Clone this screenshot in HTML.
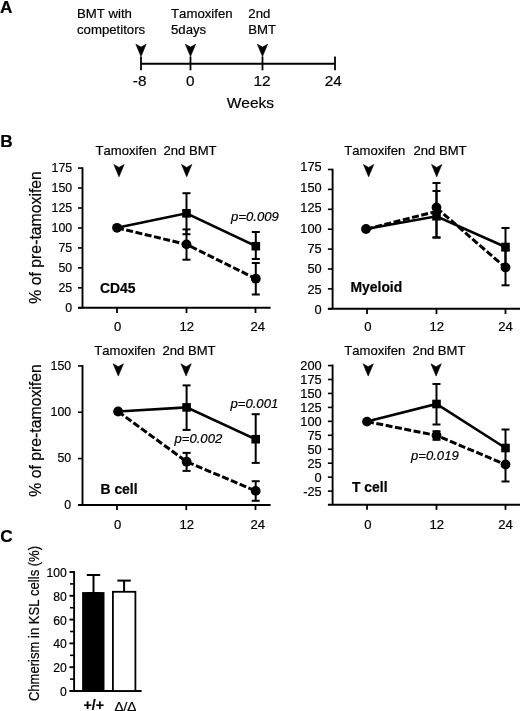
<!DOCTYPE html>
<html><head><meta charset="utf-8"><title>Figure</title>
<style>
html,body{margin:0;padding:0;background:#fff;}
body{width:520px;height:711px;overflow:hidden;}
svg{display:block;}
text{stroke:#000;stroke-width:0.2px;font-family:"Liberation Sans",Arial,Helvetica,sans-serif;fill:#000;font-kerning:none;}
</style></head><body>
<svg width="520" height="711" viewBox="0 0 520 711">
<rect width="520" height="711" fill="#fff"/>
<text x="0" y="12.8" font-size="17.2" font-weight="bold">A</text>
<text x="77" y="18.2" font-size="13.2">BMT with</text>
<text x="77" y="33.8" font-size="13.2">competitors</text>
<text x="171" y="18.2" font-size="13.2">Tamoxifen</text>
<text x="171" y="33.8" font-size="13.2">5days</text>
<text x="248.3" y="18.2" font-size="13.2">2nd</text>
<text x="248.3" y="33.8" font-size="13.2">BMT</text>
<path d="M141,63.8 H335" stroke="#000" stroke-width="2" fill="none"/>
<path d="M141,56.5 V70.3" stroke="#000" stroke-width="1.8" fill="none"/>
<path d="M190.5,56.5 V70.3" stroke="#000" stroke-width="1.8" fill="none"/>
<path d="M262.5,56.5 V70.3" stroke="#000" stroke-width="1.8" fill="none"/>
<path d="M335,56.5 V70.3" stroke="#000" stroke-width="1.8" fill="none"/>
<path d="M135.85,44.20 L141.00,47.10 L146.15,44.20 L141.00,56.50 Z" fill="#000" stroke="#000" stroke-width="0.6" stroke-linejoin="round"/>
<path d="M185.35,44.20 L190.50,47.10 L195.65,44.20 L190.50,56.50 Z" fill="#000" stroke="#000" stroke-width="0.6" stroke-linejoin="round"/>
<path d="M257.35,44.20 L262.50,47.10 L267.65,44.20 L262.50,56.50 Z" fill="#000" stroke="#000" stroke-width="0.6" stroke-linejoin="round"/>
<text x="139.6" y="86.3" text-anchor="middle" font-size="15.3">-8</text>
<text x="190.3" y="86.3" text-anchor="middle" font-size="15.3">0</text>
<text x="262" y="86.3" text-anchor="middle" font-size="15.3">12</text>
<text x="333.2" y="86.3" text-anchor="middle" font-size="15.3">24</text>
<text x="250.4" y="107.5" text-anchor="middle" font-size="15.5">Weeks</text>
<text x="0.3" y="147.4" font-size="17.2" font-weight="bold">B</text>
<text transform="translate(40.5,237.4) rotate(-90)" text-anchor="middle" font-size="15.8">% of pre-tamoxifen</text>
<text transform="translate(40.5,430.5) rotate(-90)" text-anchor="middle" font-size="15.8">% of pre-tamoxifen</text>
<path d="M82.5,167.29999999999998 V307.8" stroke="#000" stroke-width="1.9" fill="none"/>
<path d="M78,307.8 H270.6" stroke="#000" stroke-width="2" fill="none"/>
<path d="M78,307.8 H82.5" stroke="#000" stroke-width="1.6" fill="none"/>
<text transform="translate(72.2,312.00) scale(0.945,1)" text-anchor="end" font-size="13.1">0</text>
<path d="M78,287.84000000000003 H82.5" stroke="#000" stroke-width="1.6" fill="none"/>
<text transform="translate(72.2,292.04) scale(0.945,1)" text-anchor="end" font-size="13.1">25</text>
<path d="M78,267.88 H82.5" stroke="#000" stroke-width="1.6" fill="none"/>
<text transform="translate(72.2,272.08) scale(0.945,1)" text-anchor="end" font-size="13.1">50</text>
<path d="M78,247.92000000000002 H82.5" stroke="#000" stroke-width="1.6" fill="none"/>
<text transform="translate(72.2,252.12) scale(0.945,1)" text-anchor="end" font-size="13.1">75</text>
<path d="M78,227.96 H82.5" stroke="#000" stroke-width="1.6" fill="none"/>
<text transform="translate(72.2,232.16) scale(0.945,1)" text-anchor="end" font-size="13.1">100</text>
<path d="M78,208.0 H82.5" stroke="#000" stroke-width="1.6" fill="none"/>
<text transform="translate(72.2,212.20) scale(0.945,1)" text-anchor="end" font-size="13.1">125</text>
<path d="M78,188.04000000000002 H82.5" stroke="#000" stroke-width="1.6" fill="none"/>
<text transform="translate(72.2,192.24) scale(0.945,1)" text-anchor="end" font-size="13.1">150</text>
<path d="M78,168.08 H82.5" stroke="#000" stroke-width="1.6" fill="none"/>
<text transform="translate(72.2,172.28) scale(0.945,1)" text-anchor="end" font-size="13.1">175</text>
<path d="M117,307.8 V313.0" stroke="#000" stroke-width="1.8" fill="none"/>
<path d="M186.5,307.8 V313.0" stroke="#000" stroke-width="1.8" fill="none"/>
<path d="M255.5,307.8 V313.0" stroke="#000" stroke-width="1.8" fill="none"/>
<text x="117.6" y="331.2" text-anchor="middle" font-size="13.1">0</text>
<text x="186.7" y="331.2" text-anchor="middle" font-size="13.1">12</text>
<text x="257.8" y="331.2" text-anchor="middle" font-size="13.1">24</text>
<path d="M186.5,193.2 V234.2" stroke="#000" stroke-width="2" fill="none"/><path d="M182.5,193.2 H190.5" stroke="#000" stroke-width="2" fill="none"/><path d="M182.5,234.2 H190.5" stroke="#000" stroke-width="2" fill="none"/>
<path d="M186.5,229.4 V259.7" stroke="#000" stroke-width="2" fill="none"/><path d="M182.5,229.4 H190.5" stroke="#000" stroke-width="2" fill="none"/><path d="M182.5,259.7 H190.5" stroke="#000" stroke-width="2" fill="none"/>
<path d="M255.8,232 V259.0" stroke="#000" stroke-width="2" fill="none"/><path d="M251.8,232 H259.8" stroke="#000" stroke-width="2" fill="none"/><path d="M251.8,259.0 H259.8" stroke="#000" stroke-width="2" fill="none"/>
<path d="M255.8,263.0 V294.5" stroke="#000" stroke-width="2" fill="none"/><path d="M251.8,263.0 H259.8" stroke="#000" stroke-width="2" fill="none"/><path d="M251.8,294.5 H259.8" stroke="#000" stroke-width="2" fill="none"/>
<polyline points="117.0,227.8 186.5,244.4 255.8,278.7" stroke="#000" stroke-width="3" fill="none" stroke-dasharray="7 2.5"/>
<polyline points="117.0,227.8 186.5,213.3 255.8,246.2" stroke="#000" stroke-width="2.6" fill="none"/>
<rect x="182.2" y="209.0" width="8.6" height="8.6" fill="#000"/>
<rect x="251.5" y="241.89999999999998" width="8.6" height="8.6" fill="#000"/>
<circle cx="117.0" cy="227.8" r="4.9" fill="#000"/>
<circle cx="186.5" cy="244.4" r="4.9" fill="#000"/>
<circle cx="255.8" cy="278.7" r="4.9" fill="#000"/>
<text x="95.5" y="155.1" font-size="13.1">Tamoxifen</text>
<text x="163.5" y="155.1" font-size="13.1">2nd BMT</text>
<path d="M113.85,164.50 L119.00,167.40 L124.15,164.50 L119.00,176.80 Z" fill="#000" stroke="#000" stroke-width="0.6" stroke-linejoin="round"/>
<path d="M181.55,164.50 L186.70,167.40 L191.85,164.50 L186.70,176.80 Z" fill="#000" stroke="#000" stroke-width="0.6" stroke-linejoin="round"/>
<text x="100" y="292.5" font-size="13.9" font-weight="bold">CD45</text>
<text x="231.1" y="221.2" font-size="13.1" font-style="italic">p=0.009</text>
<path d="M332.6,168.7 V308.8" stroke="#000" stroke-width="1.9" fill="none"/>
<path d="M327.9,308.8 H520" stroke="#000" stroke-width="2" fill="none"/>
<path d="M327.9,308.8 H332.6" stroke="#000" stroke-width="1.6" fill="none"/>
<text transform="translate(321.7,313.90) scale(0.98,1)" text-anchor="end" font-size="13.1">0</text>
<path d="M327.9,288.90000000000003 H332.6" stroke="#000" stroke-width="1.6" fill="none"/>
<text transform="translate(321.7,293.55) scale(0.98,1)" text-anchor="end" font-size="13.1">25</text>
<path d="M327.9,269.0 H332.6" stroke="#000" stroke-width="1.6" fill="none"/>
<text transform="translate(321.7,273.20) scale(0.98,1)" text-anchor="end" font-size="13.1">50</text>
<path d="M327.9,249.10000000000002 H332.6" stroke="#000" stroke-width="1.6" fill="none"/>
<text transform="translate(321.7,252.85) scale(0.98,1)" text-anchor="end" font-size="13.1">75</text>
<path d="M327.9,229.20000000000002 H332.6" stroke="#000" stroke-width="1.6" fill="none"/>
<text transform="translate(321.7,232.50) scale(0.98,1)" text-anchor="end" font-size="13.1">100</text>
<path d="M327.9,209.3 H332.6" stroke="#000" stroke-width="1.6" fill="none"/>
<text transform="translate(321.7,212.15) scale(0.98,1)" text-anchor="end" font-size="13.1">125</text>
<path d="M327.9,189.4 H332.6" stroke="#000" stroke-width="1.6" fill="none"/>
<text transform="translate(321.7,191.80) scale(0.98,1)" text-anchor="end" font-size="13.1">150</text>
<path d="M327.9,169.50000000000003 H332.6" stroke="#000" stroke-width="1.6" fill="none"/>
<text transform="translate(321.7,171.45) scale(0.98,1)" text-anchor="end" font-size="13.1">175</text>
<path d="M367,308.8 V314.0" stroke="#000" stroke-width="1.8" fill="none"/>
<path d="M436.5,308.8 V314.0" stroke="#000" stroke-width="1.8" fill="none"/>
<path d="M505.5,308.8 V314.0" stroke="#000" stroke-width="1.8" fill="none"/>
<text x="367.8" y="331.2" text-anchor="middle" font-size="13.1">0</text>
<text x="436.7" y="331.2" text-anchor="middle" font-size="13.1">12</text>
<text x="505.5" y="331.2" text-anchor="middle" font-size="13.1">24</text>
<path d="M436.5,183 V237.5" stroke="#000" stroke-width="2" fill="none"/><path d="M432.5,183 H440.5" stroke="#000" stroke-width="2" fill="none"/><path d="M432.5,237.5 H440.5" stroke="#000" stroke-width="2" fill="none"/>
<path d="M436.5,191 V237.5" stroke="#000" stroke-width="2" fill="none"/><path d="M432.5,191 H440.5" stroke="#000" stroke-width="2" fill="none"/><path d="M432.5,237.5 H440.5" stroke="#000" stroke-width="2" fill="none"/>
<path d="M505.5,228 V266" stroke="#000" stroke-width="2" fill="none"/><path d="M501.5,228 H509.5" stroke="#000" stroke-width="2" fill="none"/><path d="M501.5,266 H509.5" stroke="#000" stroke-width="2" fill="none"/>
<path d="M505.5,250.5 V285.3" stroke="#000" stroke-width="2" fill="none"/><path d="M501.5,250.5 H509.5" stroke="#000" stroke-width="2" fill="none"/><path d="M501.5,285.3 H509.5" stroke="#000" stroke-width="2" fill="none"/>
<polyline points="366,229.2 436.5,211.4" stroke="#000" stroke-width="3" fill="none" stroke-dasharray="7 2.5"/>
<polyline points="436.5,207.8 505.5,267.7" stroke="#000" stroke-width="3" fill="none" stroke-dasharray="7 2.5"/>
<polyline points="366,229 436.5,216.25 505.5,247" stroke="#000" stroke-width="2.6" fill="none"/>
<rect x="432.2" y="211.95" width="8.6" height="8.6" fill="#000"/>
<rect x="501.2" y="242.7" width="8.6" height="8.6" fill="#000"/>
<circle cx="366" cy="229" r="4.9" fill="#000"/>
<circle cx="436.5" cy="207.5" r="4.9" fill="#000"/>
<circle cx="505.5" cy="267.5" r="4.9" fill="#000"/>
<text x="344.2" y="155.1" font-size="13.1">Tamoxifen</text>
<text x="413.5" y="155.1" font-size="13.1">2nd BMT</text>
<path d="M363.45,164.50 L368.60,167.40 L373.75,164.50 L368.60,176.80 Z" fill="#000" stroke="#000" stroke-width="0.6" stroke-linejoin="round"/>
<path d="M431.55,164.50 L436.70,167.40 L441.85,164.50 L436.70,176.80 Z" fill="#000" stroke="#000" stroke-width="0.6" stroke-linejoin="round"/>
<text x="350.5" y="292.1" font-size="13.9" font-weight="bold">Myeloid</text>
<path d="M82.5,365.09999999999997 V504.9" stroke="#000" stroke-width="1.9" fill="none"/>
<path d="M78,504.9 H270.6" stroke="#000" stroke-width="2" fill="none"/>
<path d="M78,504.9 H82.5" stroke="#000" stroke-width="1.6" fill="none"/>
<text transform="translate(71.2,508.60) scale(0.945,1)" text-anchor="end" font-size="13.1">0</text>
<path d="M78,458.57 H82.5" stroke="#000" stroke-width="1.6" fill="none"/>
<text transform="translate(71.2,462.27) scale(0.945,1)" text-anchor="end" font-size="13.1">50</text>
<path d="M78,412.24 H82.5" stroke="#000" stroke-width="1.6" fill="none"/>
<text transform="translate(71.2,415.94) scale(0.945,1)" text-anchor="end" font-size="13.1">100</text>
<path d="M78,365.90999999999997 H82.5" stroke="#000" stroke-width="1.6" fill="none"/>
<text transform="translate(71.2,369.61) scale(0.945,1)" text-anchor="end" font-size="13.1">150</text>
<path d="M117,504.9 V510.09999999999997" stroke="#000" stroke-width="1.8" fill="none"/>
<path d="M186.25,504.9 V510.09999999999997" stroke="#000" stroke-width="1.8" fill="none"/>
<path d="M255.5,504.9 V510.09999999999997" stroke="#000" stroke-width="1.8" fill="none"/>
<text x="117.6" y="529.2" text-anchor="middle" font-size="13.1">0</text>
<text x="186.7" y="529.2" text-anchor="middle" font-size="13.1">12</text>
<text x="257.8" y="529.2" text-anchor="middle" font-size="13.1">24</text>
<path d="M186.6,385.4 V429.9" stroke="#000" stroke-width="2" fill="none"/><path d="M182.6,385.4 H190.6" stroke="#000" stroke-width="2" fill="none"/><path d="M182.6,429.9 H190.6" stroke="#000" stroke-width="2" fill="none"/>
<path d="M186.6,452.9 V470.9" stroke="#000" stroke-width="2" fill="none"/><path d="M182.6,452.9 H190.6" stroke="#000" stroke-width="2" fill="none"/><path d="M182.6,470.9 H190.6" stroke="#000" stroke-width="2" fill="none"/>
<path d="M255.7,414.2 V462.9" stroke="#000" stroke-width="2" fill="none"/><path d="M251.7,414.2 H259.7" stroke="#000" stroke-width="2" fill="none"/><path d="M251.7,462.9 H259.7" stroke="#000" stroke-width="2" fill="none"/>
<path d="M255.7,481.2 V500.8" stroke="#000" stroke-width="2" fill="none"/><path d="M251.7,481.2 H259.7" stroke="#000" stroke-width="2" fill="none"/><path d="M251.7,500.8 H259.7" stroke="#000" stroke-width="2" fill="none"/>
<polyline points="118.1,411.5 186.6,461.7 255.7,490.9" stroke="#000" stroke-width="3" fill="none" stroke-dasharray="7 2.5"/>
<polyline points="118.1,411.5 186.6,407.4 255.7,439.2" stroke="#000" stroke-width="2.6" fill="none"/>
<rect x="182.29999999999998" y="403.09999999999997" width="8.6" height="8.6" fill="#000"/>
<rect x="251.39999999999998" y="434.9" width="8.6" height="8.6" fill="#000"/>
<circle cx="118.1" cy="411.5" r="4.9" fill="#000"/>
<circle cx="186.6" cy="461.7" r="4.9" fill="#000"/>
<circle cx="255.7" cy="490.9" r="4.9" fill="#000"/>
<text x="94.2" y="354.7" font-size="13.1">Tamoxifen</text>
<text x="162.5" y="354.7" font-size="13.1">2nd BMT</text>
<path d="M113.15,363.80 L118.30,366.70 L123.45,363.80 L118.30,376.10 Z" fill="#000" stroke="#000" stroke-width="0.6" stroke-linejoin="round"/>
<path d="M180.95,363.80 L186.10,366.70 L191.25,363.80 L186.10,376.10 Z" fill="#000" stroke="#000" stroke-width="0.6" stroke-linejoin="round"/>
<text x="100.5" y="493.7" font-size="13.9" font-weight="bold">B cell</text>
<text x="174.5" y="443" font-size="13.1" font-style="italic">p=0.002</text>
<text x="230.5" y="408" font-size="13.1" font-style="italic">p=0.001</text>
<path d="M332.6,364.59999999999997 V504.65" stroke="#000" stroke-width="1.9" fill="none"/>
<path d="M327.9,504.65 H520" stroke="#000" stroke-width="2" fill="none"/>
<path d="M327.9,491.09999999999997 H332.6" stroke="#000" stroke-width="1.6" fill="none"/>
<text transform="translate(321.7,495.50) scale(0.98,1)" text-anchor="end" font-size="13.1">-25</text>
<path d="M327.9,477.15 H332.6" stroke="#000" stroke-width="1.6" fill="none"/>
<text transform="translate(321.7,481.55) scale(0.98,1)" text-anchor="end" font-size="13.1">0</text>
<path d="M327.9,463.2 H332.6" stroke="#000" stroke-width="1.6" fill="none"/>
<text transform="translate(321.7,467.60) scale(0.98,1)" text-anchor="end" font-size="13.1">25</text>
<path d="M327.9,449.25 H332.6" stroke="#000" stroke-width="1.6" fill="none"/>
<text transform="translate(321.7,453.65) scale(0.98,1)" text-anchor="end" font-size="13.1">50</text>
<path d="M327.9,435.29999999999995 H332.6" stroke="#000" stroke-width="1.6" fill="none"/>
<text transform="translate(321.7,439.70) scale(0.98,1)" text-anchor="end" font-size="13.1">75</text>
<path d="M327.9,421.34999999999997 H332.6" stroke="#000" stroke-width="1.6" fill="none"/>
<text transform="translate(321.7,425.75) scale(0.98,1)" text-anchor="end" font-size="13.1">100</text>
<path d="M327.9,407.4 H332.6" stroke="#000" stroke-width="1.6" fill="none"/>
<text transform="translate(321.7,411.80) scale(0.98,1)" text-anchor="end" font-size="13.1">125</text>
<path d="M327.9,393.45 H332.6" stroke="#000" stroke-width="1.6" fill="none"/>
<text transform="translate(321.7,397.85) scale(0.98,1)" text-anchor="end" font-size="13.1">150</text>
<path d="M327.9,379.5 H332.6" stroke="#000" stroke-width="1.6" fill="none"/>
<text transform="translate(321.7,383.90) scale(0.98,1)" text-anchor="end" font-size="13.1">175</text>
<path d="M327.9,365.54999999999995 H332.6" stroke="#000" stroke-width="1.6" fill="none"/>
<text transform="translate(321.7,369.95) scale(0.98,1)" text-anchor="end" font-size="13.1">200</text>
<path d="M367,504.65 V509.84999999999997" stroke="#000" stroke-width="1.8" fill="none"/>
<path d="M436.5,504.65 V509.84999999999997" stroke="#000" stroke-width="1.8" fill="none"/>
<path d="M505.5,504.65 V509.84999999999997" stroke="#000" stroke-width="1.8" fill="none"/>
<text x="367.8" y="529.2" text-anchor="middle" font-size="13.1">0</text>
<text x="436.7" y="529.2" text-anchor="middle" font-size="13.1">12</text>
<text x="505.5" y="529.2" text-anchor="middle" font-size="13.1">24</text>
<path d="M436.5,384 V424.5" stroke="#000" stroke-width="2" fill="none"/><path d="M432.5,384 H440.5" stroke="#000" stroke-width="2" fill="none"/><path d="M432.5,424.5 H440.5" stroke="#000" stroke-width="2" fill="none"/>
<path d="M436.5,431.2 V439.8" stroke="#000" stroke-width="2" fill="none"/><path d="M432.5,431.2 H440.5" stroke="#000" stroke-width="2" fill="none"/><path d="M432.5,439.8 H440.5" stroke="#000" stroke-width="2" fill="none"/>
<path d="M505.5,429.5 V481.5" stroke="#000" stroke-width="2" fill="none"/><path d="M501.5,429.5 H509.5" stroke="#000" stroke-width="2" fill="none"/><path d="M501.5,481.5 H509.5" stroke="#000" stroke-width="2" fill="none"/>
<polyline points="367,421.6 436.5,435.5 505.5,464.5" stroke="#000" stroke-width="3" fill="none" stroke-dasharray="7 2.5"/>
<polyline points="367,421.6 436.5,404 505.5,448" stroke="#000" stroke-width="2.6" fill="none"/>
<rect x="432.2" y="399.7" width="8.6" height="8.6" fill="#000"/>
<rect x="501.2" y="443.7" width="8.6" height="8.6" fill="#000"/>
<circle cx="367" cy="421.6" r="4.9" fill="#000"/>
<circle cx="436.5" cy="435.5" r="4.9" fill="#000"/>
<circle cx="505.5" cy="464.5" r="4.9" fill="#000"/>
<text x="344.2" y="354.7" font-size="13.1">Tamoxifen</text>
<text x="412.4" y="354.7" font-size="13.1">2nd BMT</text>
<path d="M363.05,363.80 L368.20,366.70 L373.35,363.80 L368.20,376.10 Z" fill="#000" stroke="#000" stroke-width="0.6" stroke-linejoin="round"/>
<path d="M430.95,363.80 L436.10,366.70 L441.25,363.80 L436.10,376.10 Z" fill="#000" stroke="#000" stroke-width="0.6" stroke-linejoin="round"/>
<text x="352" y="492.1" font-size="13.9" font-weight="bold">T cell</text>
<text x="411" y="460" font-size="13.1" font-style="italic">p=0.019</text>
<text x="0.3" y="542" font-size="17.2" font-weight="bold">C</text>
<text transform="translate(39.2,623.5) rotate(-90) scale(0.94,1)" text-anchor="middle" font-size="13.9">Chmerism in KSL cells (%)</text>
<path d="M74.1,571.1 V691.0" stroke="#000" stroke-width="1.9" fill="none"/>
<path d="M69.7,691.0 H141.6" stroke="#000" stroke-width="2" fill="none"/>
<path d="M69.5,691.0 H74.1" stroke="#000" stroke-width="1.9" fill="none"/>
<text transform="translate(66.7,696.00) scale(0.93,1)" text-anchor="end" font-size="13.1">0</text>
<path d="M70,679.1 H74.1" stroke="#000" stroke-width="1.6" fill="none"/>
<path d="M69.5,667.2 H74.1" stroke="#000" stroke-width="1.9" fill="none"/>
<text transform="translate(66.7,672.20) scale(0.93,1)" text-anchor="end" font-size="13.1">20</text>
<path d="M70,655.3 H74.1" stroke="#000" stroke-width="1.6" fill="none"/>
<path d="M69.5,643.4 H74.1" stroke="#000" stroke-width="1.9" fill="none"/>
<text transform="translate(66.7,648.40) scale(0.93,1)" text-anchor="end" font-size="13.1">40</text>
<path d="M70,631.5 H74.1" stroke="#000" stroke-width="1.6" fill="none"/>
<path d="M69.5,619.6 H74.1" stroke="#000" stroke-width="1.9" fill="none"/>
<text transform="translate(66.7,624.60) scale(0.93,1)" text-anchor="end" font-size="13.1">60</text>
<path d="M70,607.7 H74.1" stroke="#000" stroke-width="1.6" fill="none"/>
<path d="M69.5,595.8 H74.1" stroke="#000" stroke-width="1.9" fill="none"/>
<text transform="translate(66.7,600.80) scale(0.93,1)" text-anchor="end" font-size="13.1">80</text>
<path d="M70,583.9 H74.1" stroke="#000" stroke-width="1.6" fill="none"/>
<path d="M69.5,572.0 H74.1" stroke="#000" stroke-width="1.9" fill="none"/>
<text transform="translate(66.7,577.00) scale(0.93,1)" text-anchor="end" font-size="13.1">100</text>
<path d="M93.5,575 V593" stroke="#000" stroke-width="2" fill="none"/><path d="M86.8,575 H100.2" stroke="#000" stroke-width="2" fill="none"/><path d="M86.8,593 H100.2" stroke="#000" stroke-width="2" fill="none"/>
<path d="M124.1,580.6 V593" stroke="#000" stroke-width="2" fill="none"/><path d="M117.39999999999999,580.6 H130.79999999999998" stroke="#000" stroke-width="2" fill="none"/><path d="M117.39999999999999,593 H130.79999999999998" stroke="#000" stroke-width="2" fill="none"/>
<rect x="82.1" y="592.1" width="22.4" height="98.89999999999998" fill="#000"/>
<rect x="112.9" y="591.8" width="22.5" height="99.20000000000005" fill="#fff" stroke="#000" stroke-width="1.8"/>
<text x="93.8" y="709.7" text-anchor="middle" font-size="14.2" font-weight="bold">+/+</text>
<text x="125.4" y="710.5" text-anchor="middle" font-size="13.6">Δ/Δ</text>
</svg></body></html>
